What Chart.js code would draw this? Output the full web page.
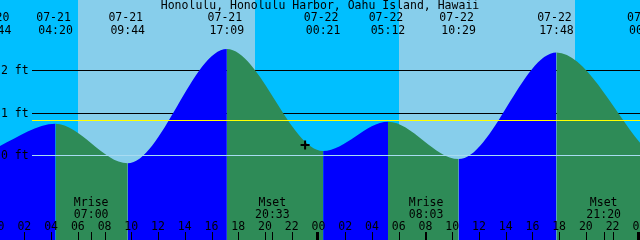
<!DOCTYPE html>
<html><head><meta charset="utf-8">
<style>html,body{margin:0;padding:0;background:#00BFFF;overflow:hidden}canvas{display:block}</style>
<script src="https://cdn.jsdelivr.net/npm/chart.js@4/dist/chart.umd.min.js"></script>
</head><body>
<canvas id="c" width="640" height="240"></canvas>
<script>
// ---- data ----
const title = "Honolulu, Honolulu Harbor, Oahu Island, Hawaii";
// tide extremes (hours from 07-21 00:00, feet)
const tideHours   = [-0.267, 4.333, 9.733, 17.15, 24.35, 29.2, 34.483, 41.8, 48.53];
const tideHeights = [0.16,   0.74,  -0.19, 2.50,  0.10,  0.79, -0.09,  2.42, 0.12];
const eventDates  = ["07-20","07-21","07-21","07-21","07-22","07-22","07-22","07-22","07-23"];
const eventTimes  = ["23:44","04:20","09:44","17:09","00:21","05:12","10:29","17:48","00:32"];
const sunriseHours = [6.02, 30.02];
const sunsetHours  = [19.25, 43.2];
const moonHours  = [7.0, 20.55, 32.05, 45.333];
const moonNames  = ["Mrise","Mset","Mrise","Mset"];
const moonTimes  = ["07:00","20:33","08:03","21:20"];
const levelValues = [2, 1, 0];
const levelLabels = ["2 ft", "1 ft", "0 ft"];
const meanLevel = 0.82;
const nowHour = 23.0, nowHeight = 0.24;
const hourTicks  = [0,2,4,6,8,10,12,14,16,18,20,22,24,26,28,30,32,34,36,38,40,42,44,46,48];
const hourLabels = ["00","02","04","06","08","10","12","14","16","18","20","22","00","02","04","06","08","10","12","14","16","18","20","22","00"];

const NIGHT = '#00BFFF', DAY = '#87CEEB', FLOOD = '#0000FF', EBB = '#2E8B57';
const FONT = '11.5px "DejaVu Sans Mono"';

const deco = {
  id: 'deco',
  beforeDraw(chart) {
    const {ctx, scales: {x, y}} = chart;
    ctx.save();
    ctx.fillStyle = NIGHT;
    ctx.fillRect(0, 0, 640, 240);
    ctx.fillStyle = DAY;
    sunriseHours.forEach((h, i) => {
      const a = Math.round(x.getPixelForValue(h)), b = Math.round(x.getPixelForValue(sunsetHours[i]));
      ctx.fillRect(a, 0, b - a, 240);
    });
    ctx.fillStyle = '#000';
    levelValues.forEach(v => {
      if (v === 0) return;
      ctx.fillRect(32, Math.round(y.getPixelForValue(v)), 608, 1);
    });
    ctx.restore();
  },
  afterDatasetsDraw(chart) {
    const {ctx, scales: {x, y}} = chart;
    ctx.save();
    // datum and mean lines over the fill
    ctx.fillStyle = '#A8DCF2';
    ctx.fillRect(32, Math.round(y.getPixelForValue(0)), 608, 1);
    ctx.fillStyle = '#FFFF00';
    ctx.fillRect(32, Math.round(y.getPixelForValue(meanLevel)), 608, 1);
    ctx.font = FONT;
    ctx.fillStyle = '#000';
    ctx.textBaseline = 'alphabetic';
    // level labels
    ctx.textAlign = 'left';
    levelValues.forEach((v, i) => {
      ctx.fillText(levelLabels[i], 1, Math.round(y.getPixelForValue(v)) + 4);
    });
    // title & event labels
    ctx.textAlign = 'center';
    ctx.fillText(title, 320, 9);
    tideHours.forEach((h, i) => {
      const px = x.getPixelForValue(h);
      ctx.fillText(eventDates[i], px - 2, 21);
      ctx.fillText(eventTimes[i], px, 34);
    });
    // moon labels
    moonHours.forEach((h, i) => {
      const px = x.getPixelForValue(h);
      ctx.fillText(moonNames[i], px, 206);
      ctx.fillText(moonTimes[i], px, 218);
      ctx.fillRect(Math.round(px), 232, 1, 8);
    });
    // hour ticks
    hourTicks.forEach((h, i) => {
      const px = x.getPixelForValue(h);
      ctx.fillText(hourLabels[i], px, 230);
      if (h % 24 === 0) ctx.fillRect(Math.round(px) - 2, 232, 3, 8);
      else ctx.fillRect(Math.round(px), 232, 1, 8);
    });
    ctx.restore();
  }
};

new Chart(document.getElementById('c'), {
  type: 'line',
  data: {
    datasets: [
      {
        type: 'scatter',
        data: [{x: nowHour, y: nowHeight}],
        pointStyle: 'cross', pointRadius: 4.5, pointBorderWidth: 2,
        pointBorderColor: '#000', borderColor: '#000', backgroundColor: '#000'
      },
      {
        data: tideHours.map((h, i) => ({x: h, y: tideHeights[i]})),
        fill: 'start',
        cubicInterpolationMode: 'monotone',
        borderWidth: 0,
        borderColor: 'rgba(0,0,0,0)',
        backgroundColor: FLOOD,
        pointRadius: 0,
        segment: {
          backgroundColor: c => (c.p1.parsed.y > c.p0.parsed.y ? FLOOD : EBB)
        }
      }
    ]
  },
  options: {
    responsive: false,
    devicePixelRatio: 1,
    animation: false,
    events: [],
    layout: {padding: 0, autoPadding: false},
    plugins: {legend: {display: false}, tooltip: {enabled: false}},
    scales: {
      x: {type: 'linear', min: 0.18, max: 48.05, display: false},
      y: {type: 'linear', min: -1.993, max: 3.654, display: false}
    }
  },
  plugins: [deco]
});
</script>
</body></html>
